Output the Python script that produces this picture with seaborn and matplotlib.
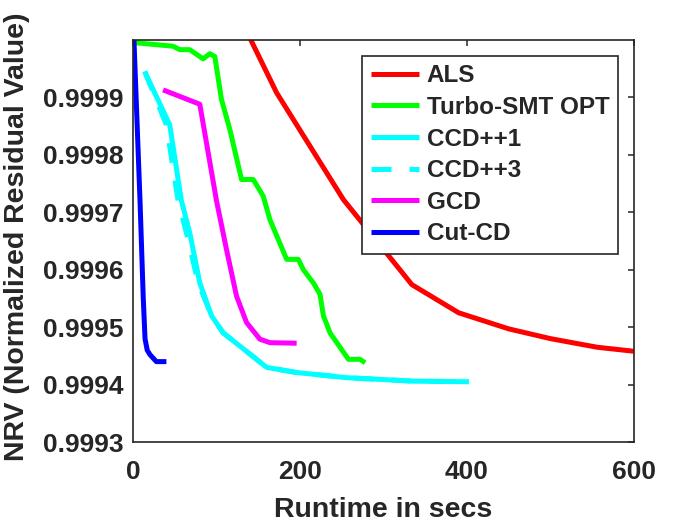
import numpy as np
import pandas as pd
import matplotlib
matplotlib.use("Agg")
import matplotlib.pyplot as plt
import seaborn as sns

# ---- data ----
als_x = [140, 172, 252, 334, 390, 450, 500, 556, 600]
als_y = [1.0000033, 0.999908, 0.999722, 0.999574, 0.999525, 0.999497, 0.999480, 0.999465, 0.999458]

turbo_x = [3, 48, 56, 68, 84, 92, 98, 106, 116, 130, 144, 156, 164, 184, 198, 204, 216, 224, 228, 236, 258, 272, 278]
turbo_y = [0.999995, 0.999989, 0.999983, 0.999983, 0.999967, 0.999976, 0.999971, 0.999896, 0.999844,
           0.999757, 0.999757, 0.999728, 0.999687, 0.999618, 0.999618, 0.999600, 0.999577, 0.999557,
           0.999520, 0.999490, 0.999444, 0.999444, 0.999438]

ccd1_x = [14, 44, 58, 68, 80, 94, 108, 128, 160, 196, 256, 336, 402]
ccd1_y = [0.999945, 0.999852, 0.999720, 0.999664, 0.999577, 0.999520, 0.999490, 0.999467, 0.999430,
          0.999421, 0.999412, 0.999406, 0.999405]

ccd3_x = [14, 40, 54, 64, 78, 94, 108, 128, 160, 196, 256, 336, 402]
ccd3_y = [0.999945, 0.999852, 0.999720, 0.999664, 0.999577, 0.999520, 0.999490, 0.999467, 0.999430,
          0.999421, 0.999412, 0.999406, 0.999405]

gcd_x = [36, 80, 100, 112, 124, 136, 152, 164, 196]
gcd_y = [0.999913, 0.999888, 0.999720, 0.999635, 0.999554, 0.999508, 0.999479, 0.999473, 0.999472]

cut_x = [1, 8.4, 12.3, 14.4, 17, 20.4, 28, 40]
cut_y = [1.000005, 0.999720, 0.999550, 0.999480, 0.999460, 0.999452, 0.999440, 0.999440]

series_names = ["ALS", "Turbo-SMT OPT", "CCD++1", "CCD++3", "GCD", "Cut-CD"]
series_x = [als_x, turbo_x, ccd1_x, ccd3_x, gcd_x, cut_x]
series_y = [als_y, turbo_y, ccd1_y, ccd3_y, gcd_y, cut_y]
colors = ["#ff0000", "#00ff00", "#00ffff", "#00ffff", "#ff00ff", "#0000ff"]

x_ticks = [0, 200, 400, 600]
y_ticks = [0.9993, 0.9994, 0.9995, 0.9996, 0.9997, 0.9998, 0.9999]
y_tick_labels = ["0.9993", "0.9994", "0.9995", "0.9996", "0.9997", "0.9998", "0.9999"]

# ---- style ----
sns.set_style("white")
plt.rcParams["font.family"] = ["Liberation Sans", "DejaVu Sans"]
plt.rcParams["font.weight"] = "bold"

fig = plt.figure(figsize=(7, 5.25), dpi=100)
ax = fig.add_axes([0.19, 0.158, 0.7157, 0.766])

dark = "#262626"
lw = 3.6
for name, xs, ys, c in zip(series_names, series_x, series_y, colors):
    df = pd.DataFrame({"x": xs, "y": ys})
    sns.lineplot(data=df, x="x", y="y", ax=ax, color=c, linewidth=lw, sort=False,
                 estimator=None, label=name, solid_capstyle="butt")

# dashed style for CCD++3
ax.lines[3].set_dashes((4, 3.6))

ax.set_xlim(0, 600)
ax.set_ylim(0.9993, 1.0)
ax.set_xticks(x_ticks)
ax.set_xticklabels([str(t) for t in x_ticks])
ax.set_yticks(y_ticks)
ax.set_yticklabels(y_tick_labels)

for s in ax.spines.values():
    s.set_visible(True)
    s.set_color(dark)
    s.set_linewidth(1.2)

ax.tick_params(axis="both", which="both", direction="in", length=4.5, width=1.1, color=dark,
               top=True, right=True, labelsize=19, labelcolor=dark)
ax.tick_params(axis="x", pad=13)
ax.tick_params(axis="y", pad=7)
for lab in ax.get_xticklabels() + ax.get_yticklabels():
    lab.set_fontweight("bold")

ax.set_xlabel("Runtime in secs", fontsize=20.5, fontweight="bold", color=dark, labelpad=9)
ax.set_ylabel("NRV (Normalized Residual Value)", fontsize=20.5, fontweight="bold", color=dark)
ax.yaxis.set_label_coords(-0.205, 0.511)

leg = ax.legend(loc="upper right", bbox_to_anchor=(0.968, 0.960), borderaxespad=0,
                frameon=True, fancybox=False, framealpha=1, edgecolor=dark,
                handlelength=2.0, handletextpad=0.3, labelspacing=0.35, borderpad=0.35,
                prop={"weight": "bold", "size": 17.5})
leg.get_frame().set_linewidth(1.2)

fig.savefig("out.png", dpi=100)
